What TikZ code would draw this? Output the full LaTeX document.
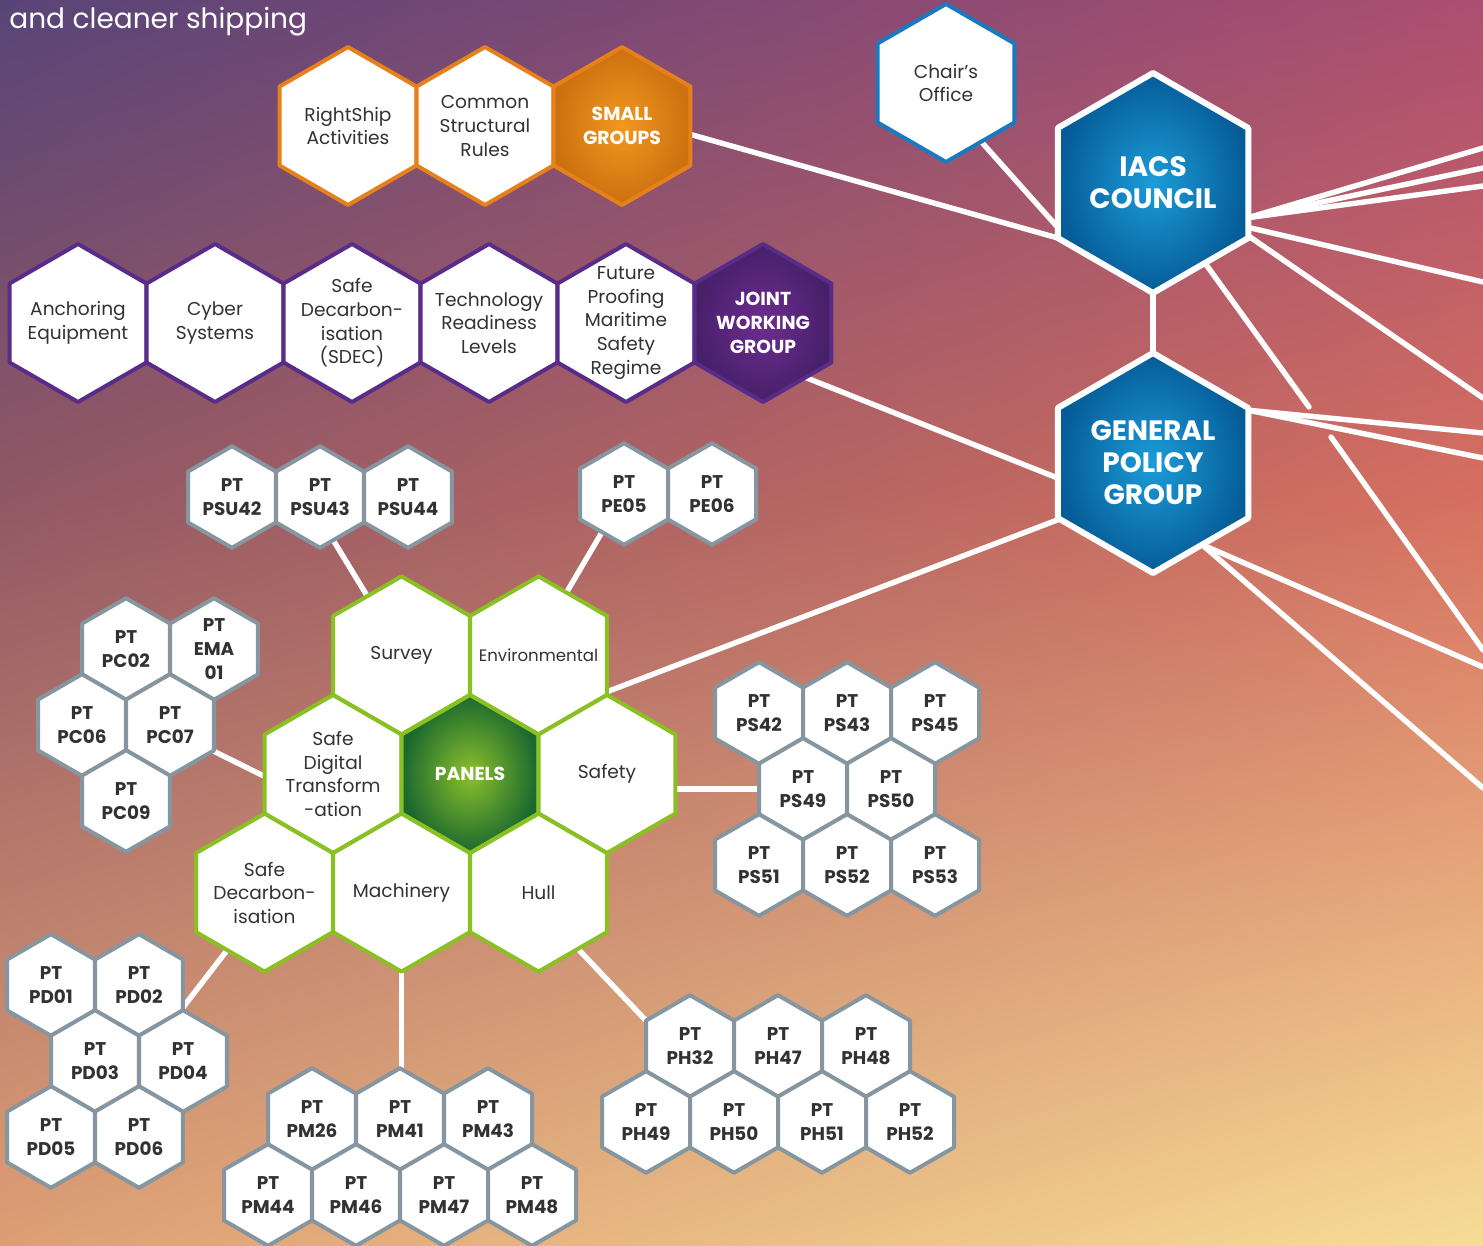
\documentclass[tikz,border=0pt]{standalone}
\usepackage{fontspec}
\setmainfont{Poppins}
\usetikzlibrary{shapes.geometric,shadings}
\pgfdeclarelayer{back}
\pgfdeclarelayer{lines}
\pgfsetlayers{back,lines,main}

\definecolor{bgul}{RGB}{88,68,120}
\definecolor{bgur}{RGB}{172,78,112}
\definecolor{bgml}{RGB}{145,88,100}
\definecolor{bgmr}{RGB}{214,112,96}
\definecolor{bgll}{RGB}{222,158,116}
\definecolor{bglr}{RGB}{247,221,150}
\definecolor{txtdark}{RGB}{50,50,50}
\definecolor{orborder}{RGB}{230,128,26}
\definecolor{orin}{RGB}{242,152,30}
\definecolor{orout}{RGB}{204,112,16}
\definecolor{puborder}{RGB}{88,44,136}
\definecolor{puin}{RGB}{110,44,145}
\definecolor{puout}{RGB}{70,32,104}
\definecolor{grborder}{RGB}{137,192,34}
\definecolor{grin}{RGB}{140,192,44}
\definecolor{grout}{RGB}{26,104,46}
\definecolor{gyborder}{RGB}{134,150,160}
\definecolor{blborder}{RGB}{25,122,192}
\definecolor{blin}{RGB}{28,156,216}
\definecolor{blout}{RGB}{5,92,152}

\begin{document}
\begin{tikzpicture}[x=0.5pt,y=-0.5pt,
  hexa/.style={regular polygon, regular polygon sides=6, shape border rotate=30,
    inner sep=0pt, outer sep=0pt, line join=round, fill=white},
  orhex/.style={hexa, minimum size=79pt, draw=orborder, line width=2pt},
  orhead/.style={orhex, shading=radial, inner color=orin, outer color=orout},
  puhex/.style={hexa, minimum size=79pt, draw=puborder, line width=2pt},
  puhead/.style={puhex, shading=radial, inner color=puin, outer color=puout},
  grhex/.style={hexa, minimum size=79pt, draw=grborder, line width=2pt},
  grhead/.style={grhex, shading=radial, inner color=grin, outer color=grout},
  bluhex/.style={hexa, minimum size=79pt, draw=blborder, line width=2pt},
  bighex/.style={hexa, minimum size=110pt, draw=white, line width=3pt,
    shading=radial, inner color=blin, outer color=blout},
  pthex/.style={hexa, minimum size=50.8pt, draw=gyborder, line width=2pt},
  lbl/.style={text=txtdark, align=center, font=\fontsize{9.3}{11.8}\selectfont},
  ptlbl/.style={text=txtdark, align=center, font=\bfseries\fontsize{9.2}{12}\selectfont},
  headlbl/.style={text=white, align=center, font=\bfseries\fontsize{9.4}{12}\selectfont},
  biglbl/.style={text=white, align=center, font=\bfseries\fontsize{14}{16}\selectfont},
  conn/.style={draw=white, line width=2.7pt, line cap=round}]

  \useasboundingbox (0,0) rectangle (1483,1246);
  % background in two bands
  \begin{pgfonlayer}{back}
    \shade[upper left=bgul, upper right=bgur, lower left=bgml, lower right=bgmr]
      (0,0) rectangle (1483,501);
    \shade[upper left=bgml, upper right=bgmr, lower left=bgll, lower right=bglr]
      (0,500) rectangle (1483,1246);
  \end{pgfonlayer}

  \node[anchor=base west, inner sep=0pt, text=white, font=\fontsize{14}{16}\selectfont] (title) at (9,29) {and cleaner shipping};

  % small groups
  \node[orhex, label={[lbl]center:{RightShip\\Activities}}] (rightship) at (348,126) {};
  \node[orhex, label={[lbl]center:{Common\\Structural\\Rules}}] (csr) at (485,126) {};
  \node[orhead, label={[headlbl]center:{SMALL\\GROUPS}}] (small) at (622,126) {};

  % joint working group
  \node[puhex, label={[lbl]center:{Anchoring\\Equipment}}] (anchoring) at (78,323) {};
  \node[puhex, label={[lbl]center:{Cyber\\Systems}}] (cyber) at (215,323) {};
  \node[puhex, label={[lbl]center:{Safe\\Decarbon-\\isation\\(SDEC)}}] (sdec) at (352,323) {};
  \node[puhex, label={[lbl]center:{Technology\\Readiness\\Levels}}] (trl) at (489,323) {};
  \node[puhex, label={[lbl]center:{Future\\Proofing\\Maritime\\Safety\\Regime}}] (fpmsr) at (626,323) {};
  \node[puhead, label={[headlbl]center:{JOINT\\WORKING\\GROUP}}] (jwg) at (763,323) {};

  % council and GPG
  \node[bluhex, label={[lbl]center:{Chair’s\\Office}}] (chair) at (946,83) {};
  \node[bighex, label={[biglbl]center:{IACS\\COUNCIL}}] (iacs) at (1153,183) {};
  \node[bighex, label={[biglbl]center:{GENERAL\\POLICY\\GROUP}}] (gpg) at (1153,463) {};

  % panels
  \node[grhex, label={[lbl]center:Survey}] (survey) at (401.5,655.4) {};
  \node[grhex, label={[lbl,font=\fontsize{8.3}{10}\selectfont]center:Environmental}] (env) at (538.5,655.4) {};
  \node[grhex, label={[lbl]center:{Safe\\Digital\\Transform\\-ation}}] (sdt) at (333,774) {};
  \node[grhead, label={[headlbl]center:PANELS}] (panels) at (470,774) {};
  \node[grhex, label={[lbl]center:Safety}] (safety) at (607,774) {};
  \node[grhex, label={[lbl]center:{Safe\\Decarbon-\\isation}}] (sdecp) at (264.5,892.6) {};
  \node[grhex, label={[lbl]center:Machinery}] (mach) at (401.5,892.6) {};
  \node[grhex, label={[lbl]center:Hull}] (hull) at (538.5,892.6) {};

  % project teams
  \node[pthex, label={[ptlbl]center:{PT\\PSU42}}] (psu42) at (232,497) {};
  \node[pthex, label={[ptlbl]center:{PT\\PSU43}}] (psu43) at (320,497) {};
  \node[pthex, label={[ptlbl]center:{PT\\PSU44}}] (psu44) at (408,497) {};
  \node[pthex, label={[ptlbl]center:{PT\\PE05}}] (pe05) at (624,494) {};
  \node[pthex, label={[ptlbl]center:{PT\\PE06}}] (pe06) at (712,494) {};

  \node[pthex, label={[ptlbl]center:{PT\\PC02}}] (pc02) at (126,649) {};
  \node[pthex, label={[ptlbl]center:{PT\\EMA\\01}}] (ema01) at (214,649) {};
  \node[pthex, label={[ptlbl]center:{PT\\PC06}}] (pc06) at (82,725) {};
  \node[pthex, label={[ptlbl]center:{PT\\PC07}}] (pc07) at (170,725) {};
  \node[pthex, label={[ptlbl]center:{PT\\PC09}}] (pc09) at (126,801) {};

  \node[pthex, label={[ptlbl]center:{PT\\PS42}}] (ps42) at (759,713) {};
  \node[pthex, label={[ptlbl]center:{PT\\PS43}}] (ps43) at (847,713) {};
  \node[pthex, label={[ptlbl]center:{PT\\PS45}}] (ps45) at (935,713) {};
  \node[pthex, label={[ptlbl]center:{PT\\PS49}}] (ps49) at (803,789) {};
  \node[pthex, label={[ptlbl]center:{PT\\PS50}}] (ps50) at (891,789) {};
  \node[pthex, label={[ptlbl]center:{PT\\PS51}}] (ps51) at (759,865) {};
  \node[pthex, label={[ptlbl]center:{PT\\PS52}}] (ps52) at (847,865) {};
  \node[pthex, label={[ptlbl]center:{PT\\PS53}}] (ps53) at (935,865) {};

  \node[pthex, label={[ptlbl]center:{PT\\PD01}}] (pd01) at (51,985) {};
  \node[pthex, label={[ptlbl]center:{PT\\PD02}}] (pd02) at (139,985) {};
  \node[pthex, label={[ptlbl]center:{PT\\PD03}}] (pd03) at (95,1061) {};
  \node[pthex, label={[ptlbl]center:{PT\\PD04}}] (pd04) at (183,1061) {};
  \node[pthex, label={[ptlbl]center:{PT\\PD05}}] (pd05) at (51,1137) {};
  \node[pthex, label={[ptlbl]center:{PT\\PD06}}] (pd06) at (139,1137) {};

  \node[pthex, label={[ptlbl]center:{PT\\PM26}}] (pm26) at (312,1119) {};
  \node[pthex, label={[ptlbl]center:{PT\\PM41}}] (pm41) at (400,1119) {};
  \node[pthex, label={[ptlbl]center:{PT\\PM43}}] (pm43) at (488,1119) {};
  \node[pthex, label={[ptlbl]center:{PT\\PM44}}] (pm44) at (268,1195) {};
  \node[pthex, label={[ptlbl]center:{PT\\PM46}}] (pm46) at (356,1195) {};
  \node[pthex, label={[ptlbl]center:{PT\\PM47}}] (pm47) at (444,1195) {};
  \node[pthex, label={[ptlbl]center:{PT\\PM48}}] (pm48) at (532,1195) {};

  \node[pthex, label={[ptlbl]center:{PT\\PH32}}] (ph32) at (690,1046) {};
  \node[pthex, label={[ptlbl]center:{PT\\PH47}}] (ph47) at (778,1046) {};
  \node[pthex, label={[ptlbl]center:{PT\\PH48}}] (ph48) at (866,1046) {};
  \node[pthex, label={[ptlbl]center:{PT\\PH49}}] (ph49) at (646,1122) {};
  \node[pthex, label={[ptlbl]center:{PT\\PH50}}] (ph50) at (734,1122) {};
  \node[pthex, label={[ptlbl]center:{PT\\PH51}}] (ph51) at (822,1122) {};
  \node[pthex, label={[ptlbl]center:{PT\\PH52}}] (ph52) at (910,1122) {};

  % loose ends at the right border
  \coordinate (f1) at (1483,148);
  \coordinate (f2) at (1483,168);
  \coordinate (f3) at (1483,186);
  \coordinate (f4) at (1483,282);
  \coordinate (f5) at (1483,398);
  \coordinate (f6) at (1309,407);
  \coordinate (g1) at (1483,433);
  \coordinate (g2) at (1483,458);
  \coordinate (g3a) at (1331,437);
  \coordinate (g3) at (1483,650);
  \coordinate (g4) at (1483,667);
  \coordinate (g5) at (1483,788);

  \begin{pgfonlayer}{lines}
    \draw[conn] (small.-7) -- (iacs.210);
    \draw[conn] (chair.-59) -- (iacs.205);
    \draw[conn] (jwg.-52) -- (gpg.189);
    \draw[conn] (env.-28) -- (gpg.211);
    \draw[conn] (iacs) -- (gpg);
    \draw[conn] (iacs.-20) -- (f1);
    \draw[conn] (iacs.-20) -- (f2);
    \draw[conn] (iacs.-20) -- (f3);
    \draw[conn] (iacs.-25) -- (f4);
    \draw[conn] (iacs.-29) -- (f5);
    \draw[conn] (iacs.-57) -- (f6);
    \draw[conn] (gpg.29) -- (g1);
    \draw[conn] (gpg.29) -- (g2);
    \draw[conn] (g3a) -- (g3);
    \draw[conn] (gpg.-59) -- (g4);
    \draw[conn] (gpg.-59) -- (g5);
    % panels to teams
    \draw[conn] (psu43.-73) -- (survey.120);
    \draw[conn] (pe05.-120) -- (env.66);
    \draw[conn] (pc07.-31) -- (sdt.182);
    \draw[conn] (ps49) -- (ps49 -| safety);
    \draw[conn] (sdecp.-123) -- (pd02.-27);
    \draw[conn] (mach) -- (mach |- pm41);
    \draw[conn] (hull.-55) -- (ph32.150);
  \end{pgfonlayer}
\end{tikzpicture}
\end{document}
